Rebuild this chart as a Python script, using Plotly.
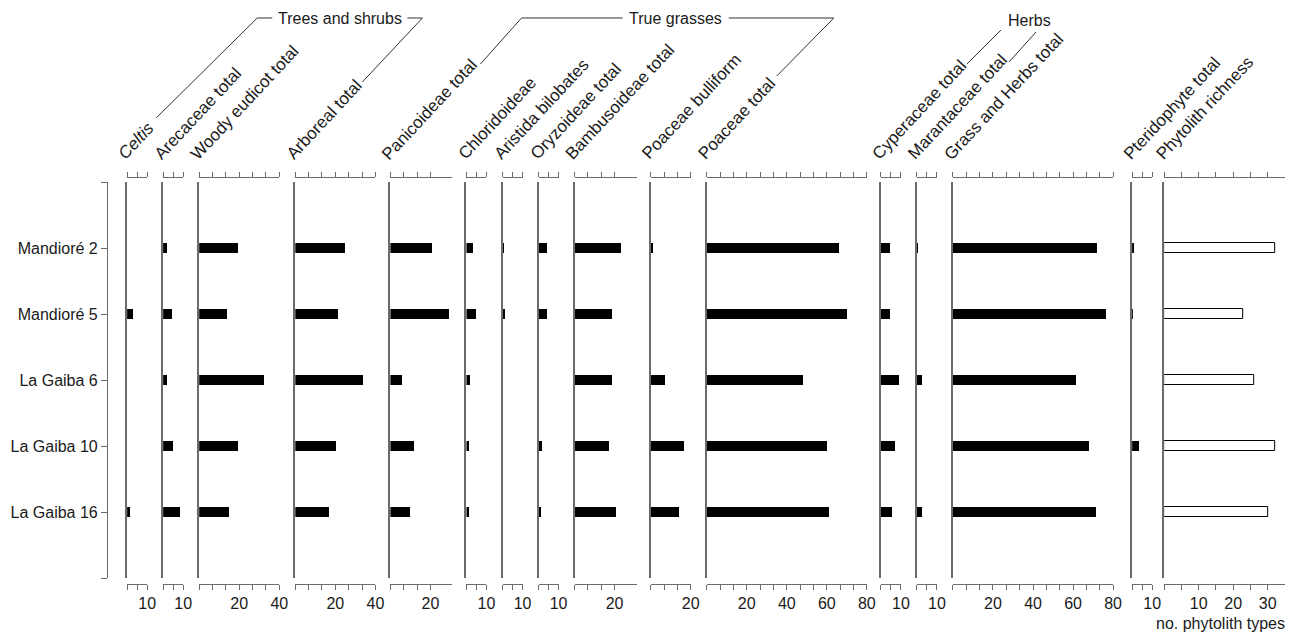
import plotly.graph_objects as go

W, H = 1296, 634

sites = ["Mandioré 2", "Mandioré 5", "La Gaiba 6", "La Gaiba 10", "La Gaiba 16"]
site_pos = [1, 2, 3, 4, 5]

taxa = ["<i>Celtis</i>", "Arecaceae total", "Woody eudicot total", "Arboreal total",
        "Panicoideae total", "Chloridoideae", "Aristida bilobates", "Oryzoideae total",
        "Bambusoideae total", "Poaceae bulliform", "Poaceae total", "Cyperaceae total",
        "Marantaceae total", "Grass and Herbs total", "Pteridophyte total",
        "Phytolith richness"]

celtis = [0, 3, 0, 0, 1.5]
arecaceae = [2, 4.5, 2, 5, 8.5]
woody = [19.5, 14, 32.5, 19.5, 15]
arboreal = [25, 21.5, 34, 20.5, 17]
panicoideae = [21, 29.5, 6, 12, 10]
chloridoideae = [3.5, 5, 2, 1.5, 1.5]
aristida = [0.5, 1, 0, 0, 0]
oryzoideae = [4, 4, 0, 1.5, 1]
bambusoideae = [23, 18.5, 18.5, 17, 20.5]
bulliform = [1, 0, 7, 16.5, 14]
poaceae = [66, 70, 48, 60, 61]
cyperaceae = [4.5, 4.5, 9, 7, 5.5]
marantaceae = [0.5, 0, 2.5, 0, 2.5]
grass_herbs = [72, 76.5, 61.5, 68, 71.5]
pteridophyte = [1, 0.5, 0, 3.5, 0]
richness = [32, 23, 26, 32, 30]

series = [celtis, arecaceae, woody, arboreal, panicoideae, chloridoideae, aristida,
          oryzoideae, bambusoideae, bulliform, poaceae, cyperaceae, marantaceae,
          grass_herbs, pteridophyte, richness]

# axis maxima and tick schemes
axis_max = [10, 10, 40, 40, 31, 10, 10, 10, 31, 20, 80, 10, 10, 80, 10, 35]
tick_step = [5, 5, 20/3, 20/3, 20/3, 5, 5, 5, 20/3, 20/3, 20/3, 5, 5, 20/3, 5, 5]
tick_last = [10, 10, 40, 40, 20, 10, 10, 10, 20, 20, 80, 10, 10, 80, 10, 30]
label_every = [10, 10, 20, 20, 20, 10, 10, 10, 20, 20, 20, 10, 10, 20, 10, 10]

# layout (pixels)
starts = [127, 163, 199, 295, 390, 466, 502, 538, 574, 650, 706, 880, 916, 952, 1131, 1163]
scale = [2.0] * 15 + [3.45]

y_top_px, y_bot_px = 182, 578
xb_px, xt_px = 584, 177
LINE = "#6b6b6b"
TXT = "#1a1a1a"
FONT = "Liberation Sans, Arial, sans-serif"
SX = 1.008

def px(x):
    return min(1.0, x * SX / W)

def py(y):
    return 1 - y / H

fig = go.Figure()
layout = dict(width=W, height=H, margin=dict(l=0, r=0, t=0, b=0),
              paper_bgcolor="white", plot_bgcolor="rgba(0,0,0,0)",
              showlegend=False, bargap=0, font=dict(family=FONT, size=16, color=TXT))

n = len(series)
for i in range(n):
    k = i + 1
    xa = "x" if k == 1 else f"x{k}"
    ya = "y" if k == 1 else f"y{k}"
    is_rich = (i == n - 1)
    fig.add_trace(go.Bar(
        x=series[i], y=site_pos, orientation="h", width=0.14,
        marker=dict(color="white" if is_rich else "black",
                    line=dict(color="black", width=1 if is_rich else 0)),
        xaxis=xa, yaxis=ya, hoverinfo="skip"))
    x0 = starts[i]
    x1 = x0 + axis_max[i] * scale[i]
    tv = []
    t = 0.0
    while t <= tick_last[i] + 1e-6:
        tv.append(round(t, 4))
        t += tick_step[i]
    tt = []
    for v in tv:
        if v > 0 and abs(v / label_every[i] - round(v / label_every[i])) < 1e-6:
            tt.append(str(int(round(v))))
        else:
            tt.append("")
    common = dict(range=[0, axis_max[i]], showgrid=False, zeroline=False,
                  showline=True, linecolor=LINE, linewidth=1.3,
                  ticks="outside", ticklen=5, tickwidth=1, tickcolor=LINE,
                  tickmode="array", tickvals=tv, fixedrange=True)
    layout["xaxis" if k == 1 else f"xaxis{k}"] = dict(
        domain=[px(x0), px(x1)], anchor="free", position=py(xb_px),
        ticktext=tt, tickfont=dict(size=16, color=TXT), **common)
    kt = n + k
    layout[f"xaxis{kt}"] = dict(
        overlaying=xa, side="top", anchor="free", position=py(xt_px),
        showticklabels=False, **common)
    fig.add_trace(go.Scatter(x=[None], y=[None], xaxis=f"x{kt}", yaxis=ya,
                             showlegend=False, hoverinfo="skip"))
    layout["yaxis" if k == 1 else f"yaxis{k}"] = dict(
        domain=[py(y_bot_px), py(y_top_px)], anchor=xa, range=[6, 0],
        showline=True, linecolor=LINE, linewidth=1.5, showgrid=False,
        zeroline=False, ticks="", showticklabels=False, fixedrange=True)

# main labelled y axis
ky = n + 1
layout[f"yaxis{ky}"] = dict(
    overlaying="y", anchor="free", position=px(107), side="left", range=[6, 0],
    showline=True, linecolor=LINE, linewidth=1.3, showgrid=False, zeroline=False,
    ticks="outside", ticklen=6, tickcolor=LINE, tickwidth=1,
    tickmode="array", tickvals=[0] + site_pos + [6], ticktext=[""] + sites + [""],
    tickfont=dict(size=16, color=TXT), fixedrange=True)
fig.add_trace(go.Scatter(x=[None], y=[None], xaxis="x", yaxis=f"y{ky}",
                         showlegend=False, hoverinfo="skip"))

annotations = []
for i, name in enumerate(taxa):
    annotations.append(dict(
        text=name, xref="paper", yref="paper", x=px(starts[i] - 15), y=py(166),
        xanchor="left", yanchor="bottom", textangle=-47, showarrow=False,
        font=dict(size=17, color=TXT, family=FONT)))

groups = [("Trees and shrubs", 339.5, 18), ("True grasses", 675, 18), ("Herbs", 1028, 20)]
for g, gx, gy in groups:
    annotations.append(dict(text=g, xref="paper", yref="paper", x=px(gx), y=py(gy),
                            xanchor="center", yanchor="middle", showarrow=False,
                            font=dict(size=16, color=TXT, family=FONT)))
annotations.append(dict(text="no. phytolith types", xref="paper", yref="paper",
                        x=1.0, y=py(623), xanchor="right", yanchor="middle",
                        showarrow=False, font=dict(size=16, color=TXT, family=FONT)))
layout["annotations"] = annotations

bracket_paths = [
    [(156, 118), (257, 18), (272, 18)],
    [(407, 18), (422, 18), (362, 82)],
    [(480, 64), (521, 18), (622, 18)],
    [(728, 18), (833, 18), (776, 76)],
    [(966, 64), (1000, 30)],
    [(1008, 62), (1035, 32)],
]
shapes = []
for pts in bracket_paths:
    d = "M " + " L ".join(f"{px(a):.5f},{py(b):.5f}" for a, b in pts)
    shapes.append(dict(type="path", path=d, xref="paper", yref="paper",
                       line=dict(color="#333333", width=1)))
layout["shapes"] = shapes

fig.update_layout(**layout)
fig.write_html("out.html", config={"displayModeBar": False},
               post_script="document.body.style.margin='0px';document.body.style.overflow='hidden';")
